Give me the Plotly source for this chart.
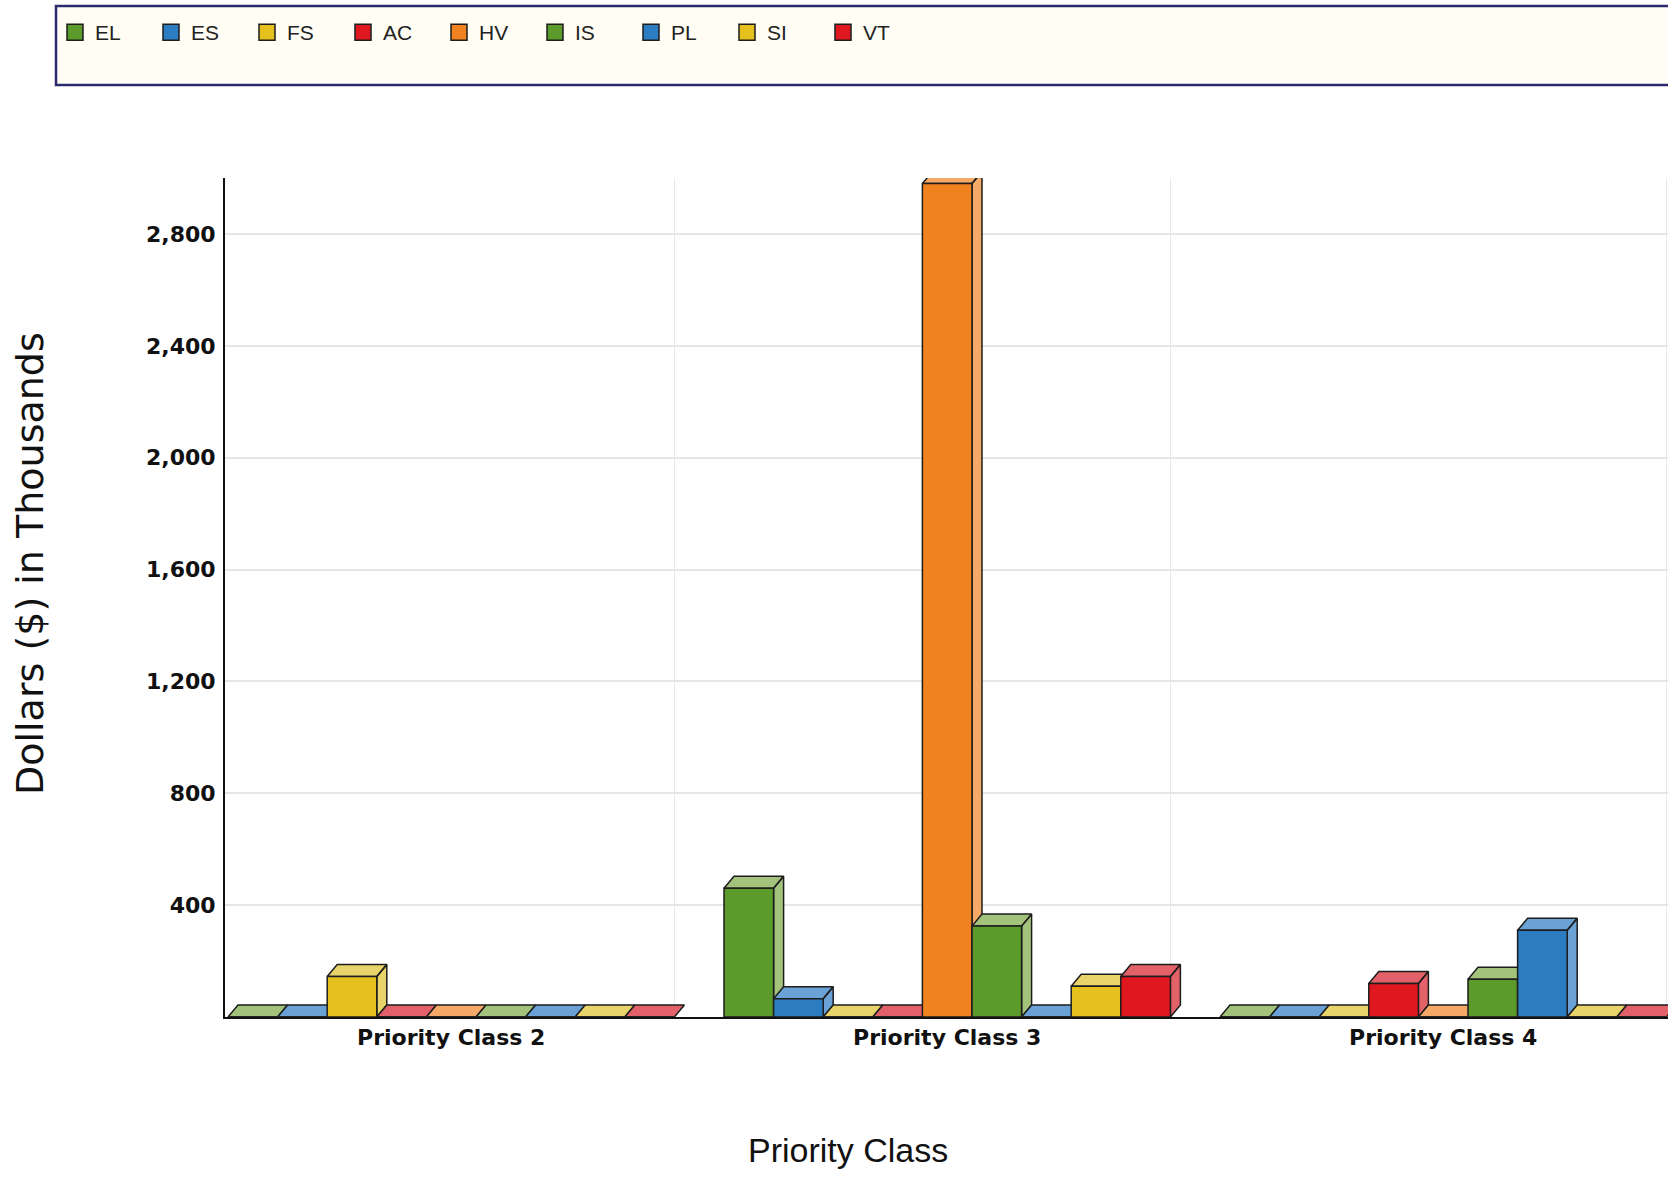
import plotly.graph_objects as go

# ---- data (thousands of dollars) ----
categories = ["Priority Class 2", "Priority Class 3", "Priority Class 4"]
series_names = ["EL", "ES", "FS", "AC", "HV", "IS", "PL", "SI", "VT"]

EL = [0, 460, 0]
ES = [0, 65, 0]
FS = [145, 0, 0]
AC = [0, 0, 120]
HV = [0, 2980, 0]
IS = [0, 325, 135]
PL = [0, 0, 310]
SI = [0, 110, 0]
VT = [0, 145, 0]

y_tick_values = [400, 800, 1200, 1600, 2000, 2400, 2800]
y_tick_labels = ["400", "800", "1,200", "1,600", "2,000", "2,400", "2,800"]

series_values = [EL, ES, FS, AC, HV, IS, PL, SI, VT]

# ---- styling ----
GREEN = ("#5c9a2b", "#a3c27c")
BLUE = ("#2b7cc1", "#6aa2d6")
YELLOW = ("#e5c11e", "#e9d46c")
RED = ("#df1820", "#e36169")
ORANGE = ("#f0821f", "#f4aa66")
palette = [GREEN, BLUE, YELLOW, RED, ORANGE, GREEN, BLUE, YELLOW, RED]
EDGE = "#1d1d1d"

W, H = 1668, 1177
M_L, M_R, M_T, M_B = 225, 0, 178, 160
plot_w = W - M_L - M_R
plot_h = H - M_T - M_B

BARGAP = 0.1
n_series = len(series_names)
bar_w = (1 - BARGAP) / n_series
px_per_cat = 496.0
x_lo = -(1 - BARGAP) / 2 - 3 / px_per_cat
x_hi = x_lo + plot_w / px_per_cat
Y_MAX = 3000

# depth of the extruded faces, expressed in axis units
depth_x = 10 / px_per_cat
depth_y = 12 * Y_MAX / plot_h

cat_pos = list(range(len(categories)))

fig = go.Figure()

# top and side faces of every bar (drawn first, left to right)
for k, (name, vals) in enumerate(zip(series_names, series_values)):
    xs, ys = [], []
    for c, v in zip(cat_pos, vals):
        x0 = c - (1 - BARGAP) / 2 + k * bar_w
        x1 = x0 + bar_w
        # top face
        xs += [x0, x1, x1 + depth_x, x0 + depth_x, x0, None]
        ys += [v, v, v + depth_y, v + depth_y, v, None]
        # right side face
        if v > 0:
            xs += [x1, x1 + depth_x, x1 + depth_x, x1, x1, None]
            ys += [0, depth_y, v + depth_y, v, 0, None]
    fig.add_trace(go.Scatter(
        x=xs, y=ys, mode="lines", fill="toself",
        fillcolor=palette[k][1], line=dict(color=EDGE, width=1.5),
        hoverinfo="skip", showlegend=False, legendgroup=name,
        xaxis="x", yaxis="y",
    ))

# legend swatches
for k, name in enumerate(series_names):
    fig.add_trace(go.Scatter(
        x=[None], y=[None], mode="markers", name=name, legendgroup=name,
        marker=dict(symbol="square", size=16, color=palette[k][0],
                    line=dict(color=EDGE, width=1.5)),
        xaxis="x", yaxis="y",
    ))

# front faces of the bars, on an overlaid subplot so they sit above the faces
for k, (name, vals) in enumerate(zip(series_names, series_values)):
    fig.add_trace(go.Bar(
        x=cat_pos, y=vals, name=name, legendgroup=name, showlegend=False,
        marker=dict(color=palette[k][0], line=dict(color=EDGE, width=1.5)),
        xaxis="x2", yaxis="y2",
    ))

# legend frame
box_x0 = (56 - M_L) / plot_w
box_x1 = (W + 10 - M_L) / plot_w
box_y0 = (H - M_B - 85) / plot_h
box_y1 = (H - M_B - 6) / plot_h
fig.add_shape(type="rect", xref="paper", yref="paper",
              x0=box_x0, x1=box_x1, y0=box_y0, y1=box_y1,
              fillcolor="#fffdf4", line=dict(color="#2b2a6e", width=2.5),
              layer="below")

tick_font = dict(family="DejaVu Sans", size=22, color="#111111", weight="bold")

fig.update_layout(
    width=W, height=H, autosize=False,
    margin=dict(l=M_L, r=M_R, t=M_T, b=M_B),
    paper_bgcolor="white", plot_bgcolor="white",
    barmode="group", bargap=BARGAP, bargroupgap=0,
    showlegend=True,
    legend=dict(
        orientation="h", xref="paper", yref="paper",
        x=(55 - M_L) / plot_w, xanchor="left",
        y=(H - M_B - 12) / plot_h, yanchor="top",
        bgcolor="rgba(0,0,0,0)", borderwidth=0,
        font=dict(family="Liberation Sans", size=21, color="#222222"),
        entrywidth=51, entrywidthmode="pixels",
        itemclick=False, itemdoubleclick=False,
    ),
    xaxis=dict(
        range=[x_lo, x_hi], tickmode="array", tickvals=cat_pos, ticktext=categories,
        showgrid=False, zeroline=False, showline=True, linecolor="#111111", linewidth=2,
        ticks="", tickfont=tick_font, fixedrange=True,
        minor=dict(tickmode="linear", tick0=(1 - BARGAP) / 2, dtick=1,
                   showgrid=True, gridcolor="#e9e9e9", gridwidth=1, ticks=""),
    ),
    yaxis=dict(
        range=[0, Y_MAX], tickmode="array", tickvals=y_tick_values, ticktext=y_tick_labels,
        showgrid=True, gridcolor="#e6e6e6", gridwidth=1.5, zeroline=False,
        showline=True, linecolor="#111111", linewidth=2,
        ticks="", ticklabelstandoff=3, tickfont=tick_font, fixedrange=True,
    ),
    xaxis2=dict(range=[x_lo, x_hi], overlaying="x", anchor="y2", visible=False, fixedrange=True),
    yaxis2=dict(range=[0, Y_MAX], overlaying="y", anchor="x2", visible=False, fixedrange=True),
    annotations=[
        dict(text="Dollars ($) in Thousands", textangle=-90, showarrow=False,
             xref="paper", yref="paper",
             x=(30 - M_L) / plot_w, y=(H - M_B - 564) / plot_h,
             xanchor="center", yanchor="middle",
             font=dict(family="DejaVu Sans", size=38, color="#111111")),
        dict(text="Priority Class", showarrow=False,
             xref="paper", yref="paper",
             x=(848 - M_L) / plot_w, y=(H - M_B - 1150) / plot_h,
             xanchor="center", yanchor="middle",
             font=dict(family="Liberation Sans", size=34, color="#111111")),
    ],
)

fig.write_html("out.html")
